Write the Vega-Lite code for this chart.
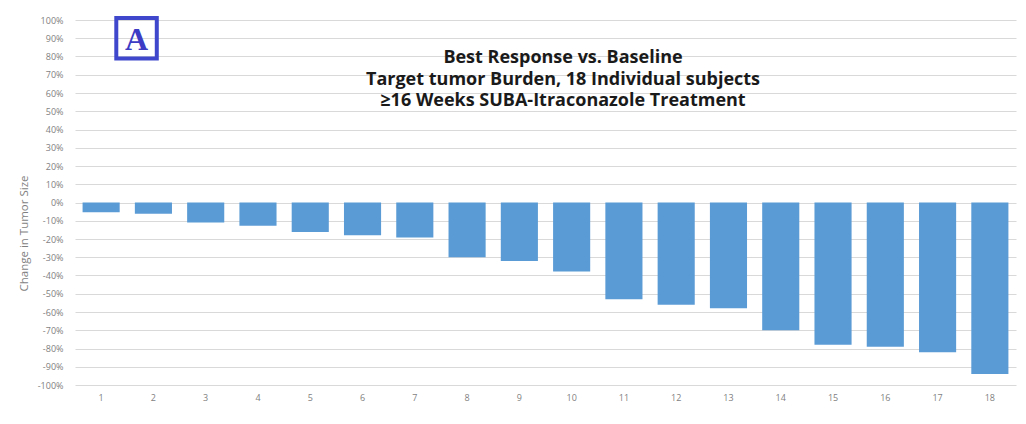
{
  "$schema": "https://vega.github.io/schema/vega-lite/v6.json",
  "width": 941,
  "height": 365,
  "autosize": "none",
  "padding": {"left": 75, "top": 20, "right": 10, "bottom": 39},
  "background": "white",
  "config": {
    "view": {"stroke": null},
    "font": "Open Sans",
    "axisX": {"labelAngle": 0, "ticks": false, "domain": false, "labelFontSize": 9, "labelColor": "#7f7f7f", "labelPadding": 8, "labelFont": "Open Sans", "grid": false},
    "axisY": {"titleFontSize": 11.5, "titleFontWeight": "normal", "titleColor": "#7f7f7f", "titleFont": "Open Sans", "titlePadding": 8, "labelOverlap": false, "labelFontSize": 9, "labelColor": "#7f7f7f", "labelFont": "Open Sans", "labelPadding": 12, "ticks": false, "domain": false, "gridColor": "#d9d9d9", "gridWidth": 1}
  },
  "title": {
    "text": ["Best Response vs. Baseline", "Target tumor Burden, 18 Individual subjects", "≥16 Weeks SUBA-Itraconazole Treatment"],
    "font": "Open Sans",
    "fontSize": 18,
    "fontWeight": "bold",
    "color": "#1a1a1a",
    "anchor": "middle",
    "baseline": "top",
    "lineHeight": 21.5,
    "dx": 17.5,
    "dy": 100,
    "offset": 0
  },
  "encoding": {
    "x": {"field": "subject", "type": "ordinal", "title": null, "scale": {"paddingInner": 0.29, "paddingOuter": 0.145}},
    "y": {
      "field": "change", "type": "quantitative",
      "scale": {"domain": [-1, 1], "nice": false},
      "axis": {
        "title": "Change in Tumor Size",
        "titleY": 213,
        "values": [-1, -0.9, -0.8, -0.7, -0.6, -0.5, -0.4, -0.3, -0.2, -0.1, 0, 0.1, 0.2, 0.3, 0.4, 0.5, 0.6, 0.7, 0.8, 0.9, 1],
        "labelExpr": "round(datum.value * 100) + '%'"
      }
    }
  },
  "layer": [
    {
      "data": {"values": [
        {"subject": 1, "change": -0.053},
        {"subject": 2, "change": -0.062},
        {"subject": 3, "change": -0.11},
        {"subject": 4, "change": -0.128},
        {"subject": 5, "change": -0.161},
        {"subject": 6, "change": -0.179},
        {"subject": 7, "change": -0.192},
        {"subject": 8, "change": -0.30},
        {"subject": 9, "change": -0.32},
        {"subject": 10, "change": -0.378},
        {"subject": 11, "change": -0.53},
        {"subject": 12, "change": -0.56},
        {"subject": 13, "change": -0.58},
        {"subject": 14, "change": -0.70},
        {"subject": 15, "change": -0.78},
        {"subject": 16, "change": -0.79},
        {"subject": 17, "change": -0.82},
        {"subject": 18, "change": -0.94}
      ]},
      "mark": {"type": "bar", "color": "#5b9bd5"}
    },
    {
      "data": {"values": [{"label": "A", "subject": 1, "change": 0.9}]},
      "mark": {"type": "point", "shape": "square", "filled": false, "stroke": "#3f48cc", "strokeWidth": 4, "size": 1640, "xOffset": 35.4, "opacity": 1}
    },
    {
      "data": {"values": [{"label": "A", "subject": 1, "change": 0.9}]},
      "mark": {"type": "text", "font": "Liberation Serif", "fontSize": 32, "fontWeight": "bold", "color": "#3c3cc4", "baseline": "middle", "align": "center", "dx": 35.4, "dy": 2},
      "encoding": {"text": {"field": "label"}}
    }
  ]
}
